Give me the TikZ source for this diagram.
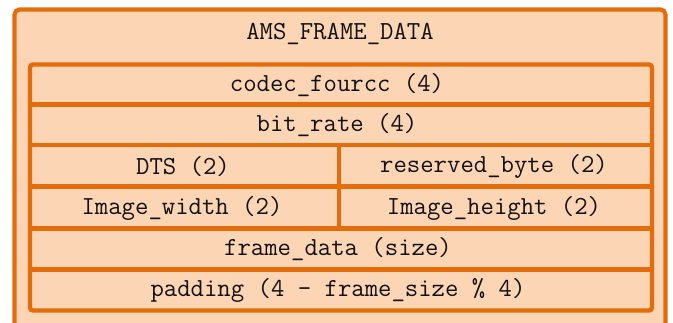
\documentclass[tikz,border=0pt]{standalone}
\usepackage{fontspec}
\definecolor{frameorange}{HTML}{E46C0A}
\definecolor{framefill}{HTML}{FCD5B5}
\definecolor{labelink}{HTML}{111111}
\begin{document}
\begin{tikzpicture}[x=1pt,y=-1pt,
  field/.style={font=\ttfamily\fontsize{26}{26}\selectfont, text=labelink, anchor=center, inner sep=0pt},
  rule/.style={draw=frameorange, line width=4.4pt},
]
\useasboundingbox (0,0) rectangle (673,322);
\clip (0,0) rectangle (673,322);
\fill[white] (0,0) rectangle (673,322);

% outer structure box (runs past the lower edge)
\draw[draw=frameorange, fill=framefill, line width=4.2pt, rounded corners=5pt]
  (14.5,9.5) rectangle (665.5,340);
\node[field] (title) at (340,34) {AMS\_FRAME\_DATA};

% inner field table
\draw[rule, rounded corners=3pt] (30,64.5) rectangle (652,310.5);
\coordinate (l1) at (30,104.5);   \coordinate (r1) at (652,104.5);
\coordinate (l2) at (30,145);     \coordinate (r2) at (652,145);
\coordinate (l3) at (30,186.5);   \coordinate (r3) at (652,186.5);
\coordinate (l4) at (30,228.5);   \coordinate (r4) at (652,228.5);
\coordinate (l5) at (30,269.5);   \coordinate (r5) at (652,269.5);
\coordinate (vt) at (339,145);    \coordinate (vb) at (339,228.5);
\draw[rule] (l1) -- (r1);
\draw[rule] (l2) -- (r2);
\draw[rule] (l3) -- (r3);
\draw[rule] (l4) -- (r4);
\draw[rule] (l5) -- (r5);
\draw[rule] (vt) -- (vb);

% field labels
\node[field] (fourcc)  at (337,85)    {codec\_fourcc (4)};
\node[field] (bitrate) at (337,125.5) {bit\_rate (4)};
\node[field] (dts)     at (183,166.5) {DTS (2)};
\node[field] (resv)    at (494,166.5) {reserved\_byte (2)};
\node[field] (imgw)    at (182,208)   {Image\_width (2)};
\node[field] (imgh)    at (494,208)   {Image\_height (2)};
\node[field] (fdata)   at (338,249)   {frame\_data (size)};
\node[field] (pad)     at (338,290)   {padding (4 - frame\_size \% 4)};
\end{tikzpicture}
\end{document}
